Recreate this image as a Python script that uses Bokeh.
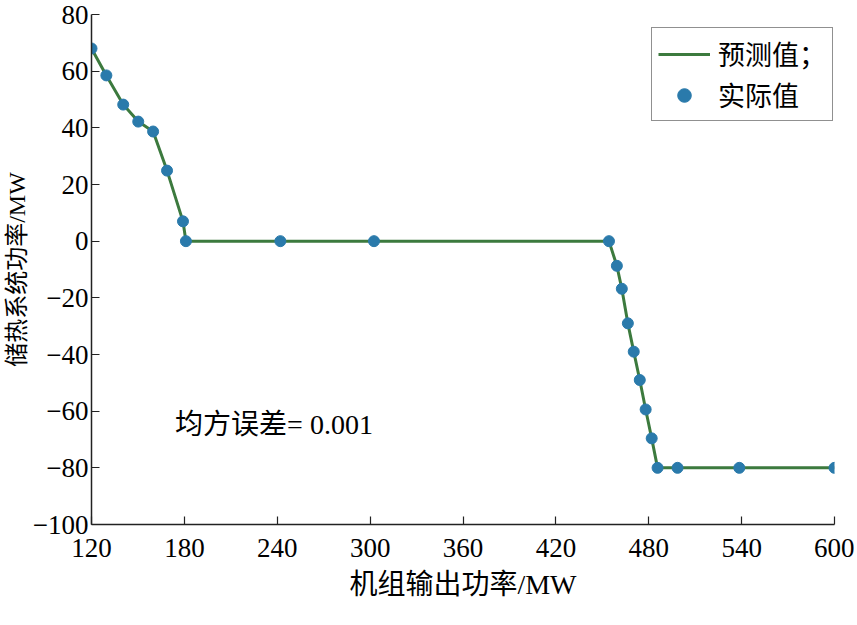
from bokeh.plotting import figure
from bokeh.models import Legend, LegendItem, Label, FixedTicker
from bokeh.embed import file_html
from bokeh.resources import INLINE

# data
unit_power = [120, 129.6, 140.5, 150.2, 159.8, 168.8, 179.1, 181, 242, 302.5,
              454.3, 459.4, 462.6, 466.5, 470.3, 474.2, 478, 481.9, 485.7,
              498.6, 538.5, 600]
predicted = [68, 58.5, 48.2, 42.2, 38.7, 24.9, 7, 0, 0, 0,
             0, -8.7, -16.8, -29, -39, -49, -59.4, -69.6, -80,
             -80, -80, -80]
actual = [68, 58.5, 48.2, 42.2, 38.7, 24.9, 7, 0, 0, 0,
          0, -8.7, -16.8, -29, -39, -49, -59.4, -69.6, -80,
          -80, -80, -80]
x_ticks = [120, 180, 240, 300, 360, 420, 480, 540, 600]
y_ticks = [-100, -80, -60, -40, -20, 0, 20, 40, 60, 80]
x_title = "机组输出功率/MW"
y_title = "储热系统功率/MW"
legend_labels = ["预测值；", "实际值"]
note_text = "均方误差= 0.001"

FONT = "Liberation Serif, Noto Sans CJK SC"
LINE_COLOR = "#3c7a3e"
DOT_COLOR = "#2a7aab"

p = figure(width=854, height=618, output_backend="svg", toolbar_location=None,
           x_range=(120, 600), y_range=(-100, 80),
           min_border_left=91, min_border_right=20, min_border_top=14,
           min_border_bottom=94)
p.outline_line_color = None
p.grid.visible = False
p.background_fill_color = "white"

line_r = p.line(unit_power, predicted, line_color=LINE_COLOR, line_width=3)
dot_r = p.scatter(unit_power, actual, size=11, fill_color=DOT_COLOR,
                  line_color=DOT_COLOR)

for ax, ticks in ((p.xaxis[0], x_ticks), (p.yaxis[0], y_ticks)):
    ax.ticker = FixedTicker(ticks=ticks)
    ax.major_label_overrides = {t: ("\u2212" + str(abs(t)) if t < 0 else str(t)) for t in ticks}
    ax.minor_tick_line_color = None
    ax.major_tick_in = 8
    ax.major_tick_out = 0
    ax.axis_line_width = 1.5
    ax.axis_line_color = "#222222"
    ax.major_tick_line_color = "#222222"
    ax.major_tick_line_width = 1.2
    ax.major_label_text_font = FONT
    ax.major_label_text_font_size = "27px"
    ax.major_label_text_color = "black"
    ax.axis_label_text_font = FONT
    ax.axis_label_text_font_style = "normal"
    ax.axis_label_text_color = "black"

p.xaxis.axis_label = x_title
p.xaxis.axis_label_text_font_size = "28px"
p.xaxis.major_label_standoff = 14
p.xaxis.axis_label_standoff = 9
p.yaxis.axis_label = y_title
p.yaxis.axis_label_text_font_size = "24px"
p.yaxis.major_label_standoff = 3
p.yaxis.axis_label_standoff = 0

legend = Legend(items=[LegendItem(label=legend_labels[0], renderers=[line_r]),
                       LegendItem(label=legend_labels[1], renderers=[dot_r])],
                location=(560, 403))
legend.border_line_color = "#222222"
legend.border_line_width = 1.2
legend.background_fill_color = "white"
legend.background_fill_alpha = 1
legend.label_text_font = FONT
legend.label_text_font_size = "27px"
legend.label_text_color = "black"
legend.padding = 6
legend.spacing = 2
legend.margin = 0
legend.glyph_width = 52
legend.glyph_height = 34
legend.label_height = 34
legend.label_standoff = 8
p.add_layout(legend)

p.add_layout(Label(x=174, y=-64.8, text=note_text, text_font=FONT,
                   text_font_size="28px", text_color="black",
                   text_baseline="alphabetic"))

open("out.html", "w").write(file_html(p, INLINE))
